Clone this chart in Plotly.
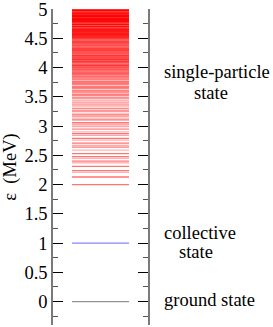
import plotly.graph_objects as go

# ---- data (MeV) ----
ground_level = [0.0]
collective_level = [1.0]

sp_levels = [
    2.00, 2.13, 2.21, 2.24, 2.31, 2.37, 2.40, 2.45, 2.48, 2.53,
    2.59, 2.64, 2.67, 2.71, 2.76, 2.79, 2.84, 2.87, 2.90, 2.95,
    2.99, 3.02, 3.05, 3.06, 3.10, 3.12, 3.16, 3.19, 3.21, 3.25,
    3.27, 3.30, 3.33, 3.36, 3.38, 3.41, 3.44, 3.47, 3.49,
    3.52, 3.54, 3.57, 3.59, 3.61, 3.64, 3.66, 3.68, 3.71, 3.73,
    3.75, 3.77, 3.80, 3.82, 3.84, 3.86, 3.88, 3.90, 3.92, 3.94,
    3.96, 3.98,
    4.00, 4.02, 4.04, 4.06, 4.08, 4.10, 4.12, 4.14, 4.15, 4.17,
    4.19, 4.21, 4.23, 4.25, 4.27, 4.29, 4.31, 4.33, 4.35, 4.37,
    4.39, 4.41, 4.43, 4.45, 4.47, 4.49,
    4.51, 4.52, 4.54, 4.55, 4.57, 4.58, 4.60, 4.62, 4.63, 4.65,
    4.66, 4.68, 4.70, 4.71, 4.73, 4.74, 4.76, 4.78, 4.79, 4.81,
    4.82, 4.84, 4.85, 4.87, 4.89, 4.90, 4.92, 4.93, 4.95, 4.97,
    4.98, 5.00,
]
sp_alpha = [
    0.55, 0.55, 0.30, 0.55, 0.55, 0.35, 0.55, 0.30, 0.55, 0.55,
    0.30, 0.55, 0.35, 0.55, 0.30, 0.55, 0.35, 0.55, 0.30, 0.50,
    0.35, 0.45, 0.30, 0.45, 0.30, 0.45, 0.35, 0.45, 0.30, 0.40,
    0.35, 0.45, 0.30, 0.40, 0.35, 0.45, 0.30, 0.40, 0.45,
    0.40, 0.50, 0.35, 0.45, 0.50, 0.40, 0.55, 0.45, 0.50, 0.55,
    0.45, 0.60, 0.50, 0.55, 0.60, 0.50, 0.60, 0.65, 0.55, 0.65,
    0.70, 0.65,
    0.70, 0.65, 0.75, 0.60, 0.70, 0.75, 0.65, 0.70, 0.75, 0.65,
    0.70, 0.75, 0.70, 0.65, 0.80, 0.70, 0.75, 0.70, 0.75, 0.70,
    0.75, 0.70, 0.75, 0.70, 0.75, 0.80,
    0.85, 0.80, 1.00, 0.80, 0.85, 0.80, 0.85, 0.80, 0.85, 0.85,
    0.85, 0.90, 0.85, 0.90, 0.90, 0.90, 0.90, 0.95, 0.90, 0.95,
    0.95, 0.95, 0.95, 1.00, 0.95, 1.00, 1.00, 1.00, 1.00, 1.00,
    1.00, 1.00,
]

tick_vals = [0, 0.5, 1, 1.5, 2, 2.5, 3, 3.5, 4, 4.5, 5]
tick_text = ["0", "0.5", "1", "1.5", "2", "2.5", "3", "3.5", "4", "4.5", "5"]

labels = ["single-particle", "state", "collective", "state", "ground state"]
label_y = [3.92, 3.56, 1.17, 0.85, 0.03]
label_x = [1.15, 1.46, 1.15, 1.30, 1.15]

# ---- figure ----
X0, X1 = 0.2, 0.8
fig = go.Figure()

def add_level(e, color, width=1.3):
    fig.add_trace(go.Scatter(
        x=[X0, X1], y=[e, e], mode="lines",
        line=dict(color=color, width=width),
        hoverinfo="skip", showlegend=False, cliponaxis=False))

for e, a in zip(sp_levels, sp_alpha):
    add_level(e, f"rgba(255,0,0,{a})", 1.3)
for e in collective_level:
    add_level(e, "rgba(110,110,255,0.85)", 1.3)
for e in ground_level:
    add_level(e, "rgba(120,120,120,0.8)", 1.3)

serif = "Liberation Serif, Times New Roman, serif"
for t, xx, yy in zip(labels, label_x, label_y):
    fig.add_annotation(text=t, x=xx, y=yy, xref="paper", yref="y",
                       xanchor="left", yanchor="middle", showarrow=False,
                       font=dict(family=serif, size=18.5, color="black"))

font = dict(family=serif, size=18.5, color="black")
fig.update_layout(
    width=273, height=327,
    margin=dict(l=53, r=125, t=9, b=2, autoexpand=False),
    paper_bgcolor="white", plot_bgcolor="white",
    font=font,
    xaxis=dict(range=[0, 1], visible=False, fixedrange=True),
    yaxis=dict(
        range=[-0.4, 5.002], showgrid=False, zeroline=False, automargin=False,
        showline=True, linecolor="#7a7a7a", linewidth=1.5, mirror="allticks",
        ticks="inside", ticklen=10, tickwidth=1.3, tickcolor="black",
        tickvals=tick_vals, ticktext=tick_text, tickfont=font,
        ticklabeloverflow="allow",
        minor=dict(dtick=0.25, tick0=0, ticks="inside", ticklen=5,
                   tickwidth=1.3, tickcolor="#555555", showgrid=False),
        title=dict(text="ε  (MeV)", font=font, standoff=10),
    ),
)

fig.write_html("out.html", config={"displayModeBar": False},
               post_script="document.body.style.margin='0';document.body.style.overflow='hidden';")
